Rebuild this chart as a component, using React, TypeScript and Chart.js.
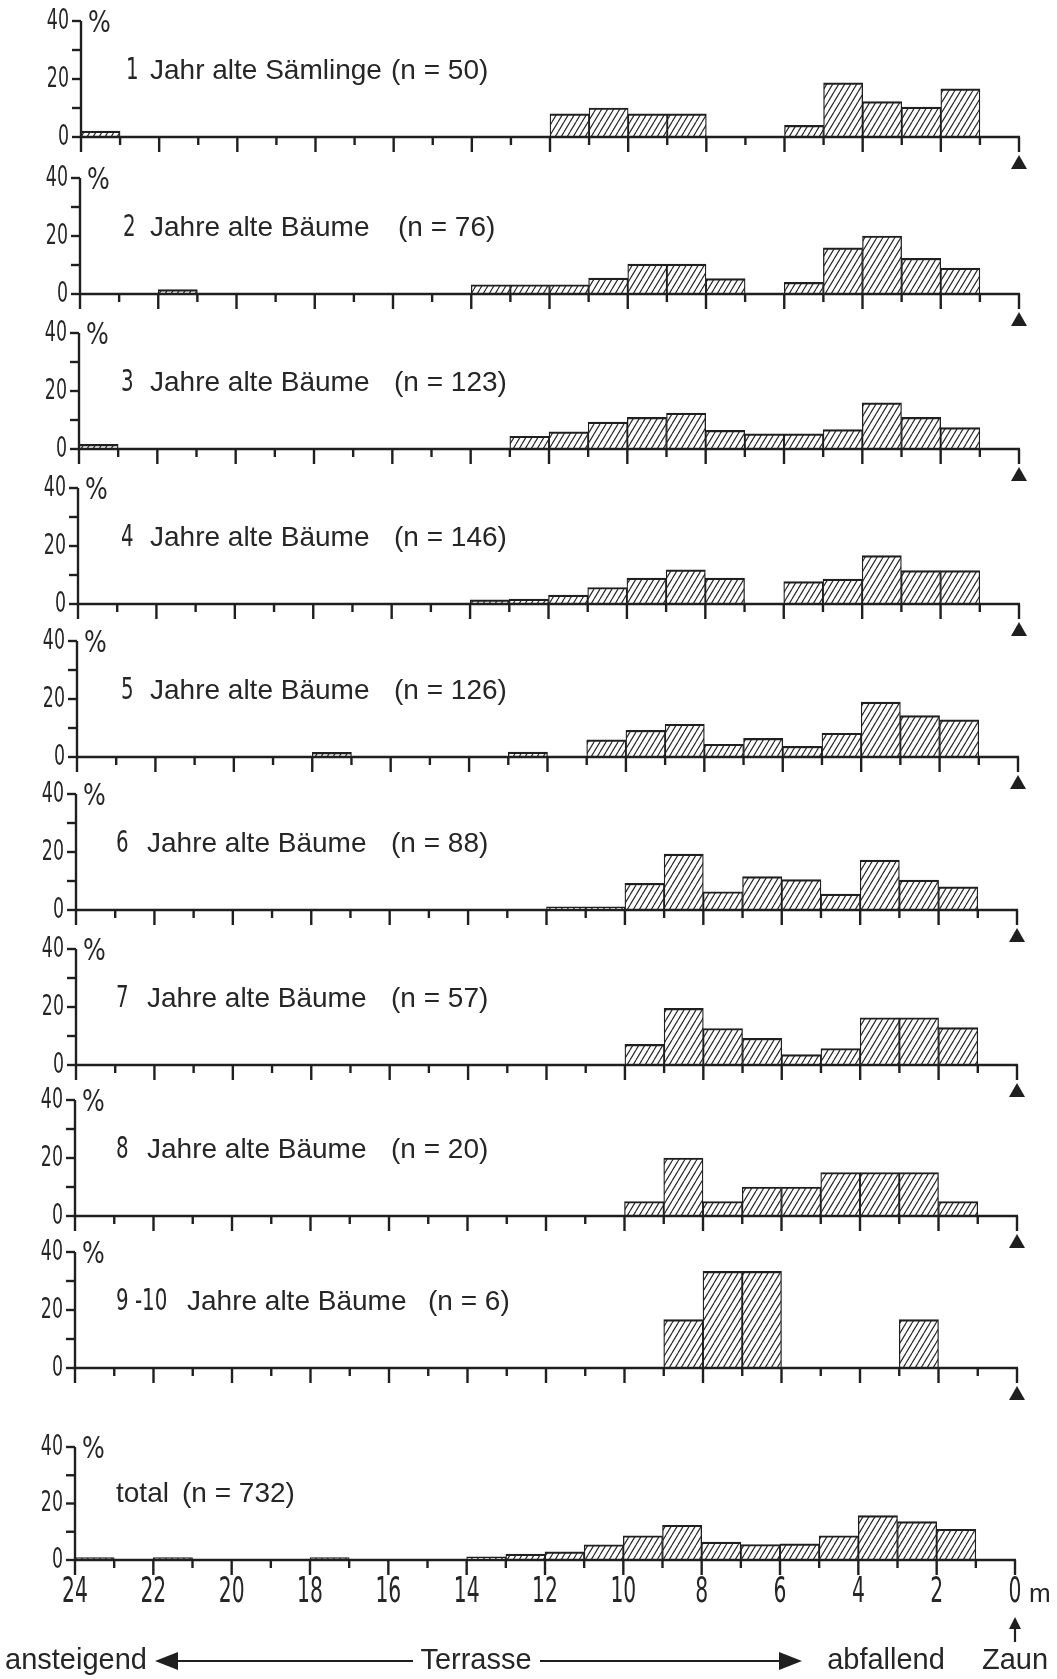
import React, { useEffect, useRef } from 'react';
import { Chart, registerables } from 'chart.js';
Chart.register(...registerables);

// Distance from the fence (m): 1 m bins, midpoints from 23.5 m down to 0.5 m
const binMidpoints = [23.5, 22.5, 21.5, 20.5, 19.5, 18.5, 17.5, 16.5, 15.5, 14.5, 13.5, 12.5, 11.5, 10.5, 9.5, 8.5, 7.5, 6.5, 5.5, 4.5, 3.5, 2.5, 1.5, 0.5];
const xTickValues = [24, 23, 22, 21, 20, 19, 18, 17, 16, 15, 14, 13, 12, 11, 10, 9, 8, 7, 6, 5, 4, 3, 2, 1, 0];
const xTickLabels = ['24', '', '22', '', '20', '', '18', '', '16', '', '14', '', '12', '', '10', '', '8', '', '6', '', '4', '', '2', '', '0'];
const yTickValues = [0, 10, 20, 30, 40];
const yTickLabels = ['0', '', '20', '', '40'];

// Percent of individuals per 1 m bin (24-23 m ... 1-0 m)
const age1 = [2, 0, 0, 0, 0, 0, 0, 0, 0, 0, 0, 0, 8, 10, 8, 8, 0, 0, 4, 18.7, 12.2, 10.3, 16.6, 0];
const age2 = [0, 0, 1.5, 0, 0, 0, 0, 0, 0, 0, 3.2, 3.2, 3.2, 5.5, 10.3, 10.3, 5.3, 0, 4.0, 15.9, 20.0, 12.3, 8.9, 0];
const age3 = [1.6, 0, 0, 0, 0, 0, 0, 0, 0, 0, 0, 4.4, 5.9, 9.3, 10.9, 12.4, 6.4, 5.2, 5.2, 6.7, 15.9, 10.9, 7.4, 0];
const age4 = [0, 0, 0, 0, 0, 0, 0, 0, 0, 0, 1.4, 1.7, 3.1, 5.7, 8.9, 11.8, 8.9, 0, 7.7, 8.6, 16.7, 11.5, 11.5, 0];
const age5 = [0, 0, 0, 0, 0, 0, 1.6, 0, 0, 0, 0, 1.7, 0, 5.9, 9.2, 11.3, 4.4, 6.4, 3.7, 8.2, 18.9, 14.3, 12.8, 0];
const age6 = [0, 0, 0, 0, 0, 0, 0, 0, 0, 0, 0, 0, 1.1, 1.1, 9.2, 19.3, 6.3, 11.5, 10.5, 5.5, 17.2, 10.3, 8.0, 0];
const age7 = [0, 0, 0, 0, 0, 0, 0, 0, 0, 0, 0, 0, 0, 0, 7.1, 19.5, 12.6, 9.2, 3.6, 5.7, 16.3, 16.3, 12.9, 0];
const age8 = [0, 0, 0, 0, 0, 0, 0, 0, 0, 0, 0, 0, 0, 0, 5, 20, 5, 10, 10, 15, 15, 15, 5, 0];
const age9to10 = [0, 0, 0, 0, 0, 0, 0, 0, 0, 0, 0, 0, 0, 0, 0, 16.7, 33.3, 33.3, 0, 0, 0, 16.7, 0, 0];
const totalAll = [0.9, 0, 0.9, 0, 0, 0, 0.9, 0, 0, 0, 1.1, 2.1, 2.9, 5.4, 8.6, 12.3, 6.3, 5.5, 5.7, 8.6, 15.7, 13.6, 10.9, 0];

const panelNumbers = ['1', '2', '3', '4', '5', '6', '7', '8', '9 -10', ''];
const panelWords = ['Jahr alte Sämlinge', 'Jahre alte Bäume', 'Jahre alte Bäume', 'Jahre alte Bäume', 'Jahre alte Bäume', 'Jahre alte Bäume', 'Jahre alte Bäume', 'Jahre alte Bäume', 'Jahre alte Bäume', 'total'];
const panelCounts = ['(n = 50)', '(n = 76)', '(n = 123)', '(n = 146)', '(n = 126)', '(n = 88)', '(n = 57)', '(n = 20)', '(n = 6)', '(n = 732)'];
const panelSeries = [age1, age2, age3, age4, age5, age6, age7, age8, age9to10, totalAll];

// layout (pixels)
const baselines = [137, 294, 449, 604, 757, 910, 1065, 1216, 1368, 1560];
const axisLefts = [81, 80, 79, 78, 77, 76, 76, 75, 75, 75];
const axisRights = [1019, 1019, 1019, 1019, 1018, 1017, 1017, 1017, 1017, 1015];
const fortyHeights = [116, 116, 116, 116, 116, 116, 116, 116, 116, 113];
const numXs = [126, 123, 121, 121, 121, 116, 116, 116, 116, 0];
const wordXs = [150, 150, 150, 150, 150, 147, 147, 147, 187, 116];
const countXs = [391, 398, 394, 394, 394, 391, 391, 391, 428, 182];

const INK = '#1f1f1f';
const TEXT = '#262626';
const PAGE_W = 1057;
const PAGE_H = 1679;

function narrow(ctx: any, text: string, x: number, y: number, size: number, sx: number, align: string) {
  ctx.save();
  ctx.translate(x, y);
  ctx.scale(sx, 1);
  ctx.font = `${size}px "DejaVu Sans", sans-serif`;
  ctx.textAlign = align;
  ctx.textBaseline = 'middle';
  ctx.fillStyle = TEXT;
  ctx.fillText(text, 0, 0);
  ctx.restore();
}

function sans(ctx: any, text: string, x: number, y: number, size: number, align = 'left') {
  ctx.save();
  ctx.font = `${size}px "Liberation Sans", Arial, sans-serif`;
  ctx.textAlign = align;
  ctx.textBaseline = 'middle';
  ctx.fillStyle = TEXT;
  ctx.fillText(text, x, y);
  ctx.restore();
}

function makeHatch(): any {
  const c = document.createElement('canvas');
  c.width = 6;
  c.height = 10;
  const g = c.getContext('2d')!;
  g.fillStyle = '#ffffff';
  g.fillRect(0, 0, 6, 10);
  g.strokeStyle = '#2a2a2a';
  g.lineWidth = 1.2;
  g.beginPath();
  for (const dx of [-6, 0, 6]) {
    g.moveTo(dx, 10);
    g.lineTo(dx + 6, 0);
  }
  g.stroke();
  return g.createPattern(c, 'repeat');
}

function Panel({ idx }: { idx: number }) {
  const ref = useRef<HTMLCanvasElement | null>(null);
  const isTotal = idx === panelSeries.length - 1;
  const top = baselines[idx] - 135;
  const height = isTotal ? PAGE_H - top : 185;

  useEffect(() => {
    const canvas = ref.current;
    if (!canvas) return;
    const values = panelSeries[idx];
    const deco = {
      id: 'deco' + idx,
      afterDatasetsDraw(chart: any) {
        const ctx = chart.ctx;
        const xs = chart.scales.x;
        const ys = chart.scales.y;
        const xL = xs.getPixelForValue(24);
        const xR = xs.getPixelForValue(0);
        const yb = ys.getPixelForValue(0);
        const yTop = ys.getPixelForValue(40);
        ctx.save();
        ctx.strokeStyle = INK;
        ctx.fillStyle = INK;
        ctx.lineWidth = 2.4;
        // x axis line
        ctx.beginPath();
        ctx.moveTo(xL, yb);
        ctx.lineTo(xR + 1, yb);
        ctx.stroke();
        // x ticks (long at even metres)
        xTickValues.forEach((v) => {
          const px = xs.getPixelForValue(v);
          const len = v % 2 === 0 ? 15 : 8;
          ctx.beginPath();
          ctx.moveTo(px, yb);
          ctx.lineTo(px, yb + len);
          ctx.stroke();
        });
        // y axis
        ctx.beginPath();
        ctx.moveTo(xL, yTop);
        ctx.lineTo(xL, yb);
        ctx.stroke();
        yTickValues.forEach((v, i) => {
          const py = ys.getPixelForValue(v);
          ctx.beginPath();
          ctx.moveTo(xL - 9, py);
          ctx.lineTo(xL, py);
          ctx.stroke();
          if (yTickLabels[i]) narrow(ctx, yTickLabels[i], xL - 12, py, 29, 0.6, 'right');
        });
        narrow(ctx, '%', xL + 7, yTop + 3, 30, 0.8, 'left');
        // title
        const ty = yb - 66;
        if (panelNumbers[idx]) narrow(ctx, panelNumbers[idx], numXs[idx], ty, 31, 0.64, 'left');
        sans(ctx, panelWords[idx], wordXs[idx], ty, 28);
        sans(ctx, panelCounts[idx], countXs[idx], ty, 28);
        if (!isTotal) {
          ctx.beginPath();
          ctx.moveTo(xR, yb + 18);
          ctx.lineTo(xR + 8, yb + 32);
          ctx.lineTo(xR - 8, yb + 32);
          ctx.closePath();
          ctx.fill();
        } else {
          xTickValues.forEach((v, i) => {
            if (xTickLabels[i]) narrow(ctx, xTickLabels[i], xs.getPixelForValue(v), yb + 33, 35, 0.58, 'center');
          });
          sans(ctx, 'm', xR + 14, yb + 35, 26);
          // fence arrow
          ctx.lineWidth = 2.2;
          ctx.beginPath();
          ctx.moveTo(xR, yb + 66);
          ctx.lineTo(xR, yb + 82);
          ctx.stroke();
          ctx.beginPath();
          ctx.moveTo(xR, yb + 57);
          ctx.lineTo(xR + 6, yb + 69);
          ctx.lineTo(xR - 6, yb + 69);
          ctx.closePath();
          ctx.fill();
          // bottom legend row
          const by = yb + 101;
          sans(ctx, 'ansteigend', 5, by, 29);
          sans(ctx, 'Terrasse', 476, by, 29, 'center');
          sans(ctx, 'abfallend', 886, by, 29, 'center');
          sans(ctx, 'Zaun', xR, by, 29, 'center');
          ctx.lineWidth = 2;
          ctx.beginPath();
          ctx.moveTo(175, by);
          ctx.lineTo(413, by);
          ctx.moveTo(540, by);
          ctx.lineTo(783, by);
          ctx.stroke();
          ctx.beginPath();
          ctx.moveTo(155, by);
          ctx.lineTo(178, by - 9);
          ctx.lineTo(178, by + 9);
          ctx.closePath();
          ctx.fill();
          ctx.beginPath();
          ctx.moveTo(802, by);
          ctx.lineTo(779, by - 9);
          ctx.lineTo(779, by + 9);
          ctx.closePath();
          ctx.fill();
        }
        ctx.restore();
      },
    };

    const chart = new Chart(canvas, {
      type: 'bar',
      data: {
        datasets: [
          {
            data: binMidpoints.map((m, i) => ({ x: m, y: values[i] > 0 ? values[i] : null })),
            backgroundColor: makeHatch(),
            borderColor: INK,
            borderWidth: { top: 2.2, left: 1.3, right: 1.3, bottom: 0 },
            barPercentage: 1,
            categoryPercentage: 1,
          } as any,
        ],
      },
      options: {
        responsive: false,
        animation: false,
        layout: {
          padding: {
            left: axisLefts[idx],
            right: PAGE_W - axisRights[idx],
            top: 135 - fortyHeights[idx],
            bottom: height - 135,
          },
        },
        scales: {
          x: { type: 'linear', min: 0, max: 24, reverse: true, offset: false, display: false },
          y: { type: 'linear', min: 0, max: 40, display: false },
        },
        plugins: { legend: { display: false }, tooltip: { enabled: false } },
      } as any,
      plugins: [deco],
    });
    return () => chart.destroy();
  }, [idx, height]);

  return (
    <canvas
      ref={ref}
      width={PAGE_W}
      height={height}
      style={{ position: 'absolute', left: 0, top, width: PAGE_W, height, display: 'block' }}
    />
  );
}

export default function App() {
  useEffect(() => {
    document.body.style.margin = '0';
  }, []);
  return (
    <div style={{ position: 'relative', width: PAGE_W, height: PAGE_H, background: '#ffffff', overflow: 'hidden' }}>
      {panelSeries.map((_, i) => (
        <Panel key={i} idx={i} />
      ))}
    </div>
  );
}
